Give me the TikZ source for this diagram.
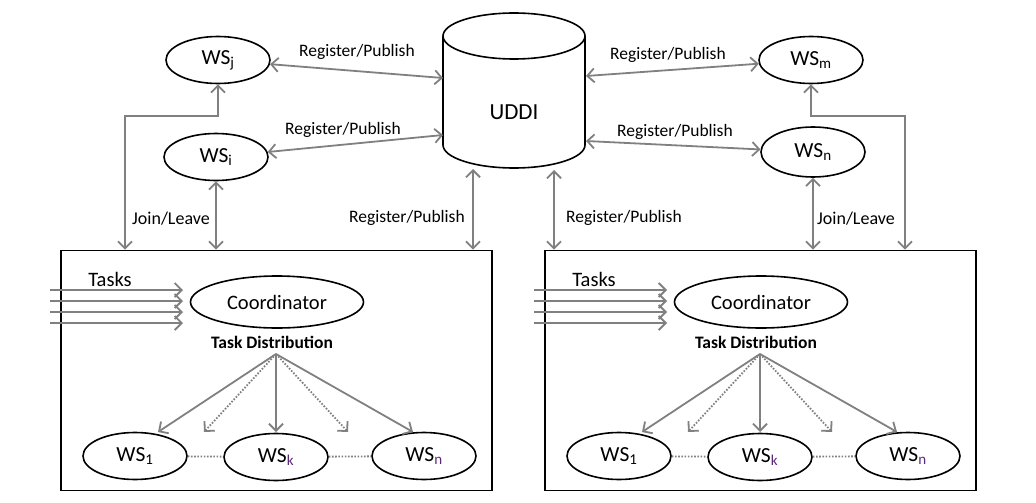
\documentclass[tikz,border=0pt]{standalone}
\usepackage{fontspec}
\setmainfont{Carlito}
\usetikzlibrary{arrows.meta,calc,shapes.geometric}
\definecolor{lgray}{RGB}{128,128,128}
\definecolor{subp}{RGB}{90,40,120}
\tikzset{
  >={Straight Barb[length=7pt,width=14pt]},
  conn/.style={draw=lgray, line width=1.8pt},
  dotconn/.style={draw=lgray, line width=1.8pt, dash pattern=on 1.6pt off 1.6pt},
  wsnode/.style={ellipse, draw, line width=1.6pt, minimum width=104pt, minimum height=47pt, inner sep=0pt, font=\fontsize{21.5}{24}\selectfont},
  lbl/.style={font=\fontsize{17.5}{20}\selectfont, inner sep=0pt},
  boxnode/.style={draw, line width=1.8pt, minimum width=431pt, minimum height=240pt, inner sep=0pt},
}
\newcommand{\cluster}[2]{%
\begin{scope}[xshift=#2pt]
  \node[boxnode] (#1box) at (276.5,370.5) {};
  \node[font=\fontsize{20.5}{22}\selectfont, inner sep=0pt] (#1tasks) at (110,279) {Tasks};
  \node[wsnode, minimum width=173pt, minimum height=52pt, font=\fontsize{20.5}{24}\selectfont] (#1coord) at (277,302) {Coordinator};
  \node[font=\bfseries\fontsize{17.5}{20}\selectfont, inner sep=0pt] (#1td) at (272,342) {Task Distribution};
  \coordinate (#1src) at (276,354);
  \node[wsnode] (#1wa) at (135,456) {WS\textsubscript{1}};
  \node[wsnode] (#1wk) at (276,457) {WS\textsubscript{\color{subp}k}};
  \node[wsnode] (#1wn) at (424,456) {WS\textsubscript{\color{subp}n}};
  \foreach \y [count=\i] in {290,301,312,323} {
    \coordinate (#1ts\i) at (50,\y);
    \coordinate (#1te\i) at (183,\y);
    \draw[conn,->] (#1ts\i) -- (#1te\i);
  }
  \coordinate (#1ea) at (158,432);
  \coordinate (#1eb) at (204,432);
  \coordinate (#1ec) at (276,432);
  \coordinate (#1ed) at (348,432);
  \coordinate (#1ee) at (413,432);
  \draw[conn,->] (#1src) -- (#1ea);
  \draw[dotconn,->] (#1src) -- (#1eb);
  \draw[conn,->] (#1src) -- (#1ec);
  \draw[dotconn,->] (#1src) -- (#1ed);
  \draw[conn,->] (#1src) -- (#1ee);
  \draw[dotconn] (#1wa) -- (#1wk);
  \draw[dotconn] (#1wk) -- (#1wn);
\end{scope}}
\begin{document}
\begin{tikzpicture}[x=1pt,y=-1pt]
\useasboundingbox (0,0) rectangle (1036,503);
% UDDI cylinder
\draw[line width=1.6pt] (514,36) ellipse [x radius=71pt, y radius=23pt];
\draw[line width=1.6pt] (443,36) -- (443,145)
  .. controls (443,157.7) and (474.8,168) .. (514,168)
  .. controls (553.2,168) and (585,157.7) .. (585,145) -- (585,36);
\node[font=\fontsize{23}{26}\selectfont] (uddi) at (514,112) {UDDI};
\coordinate (uj) at (443,78);
\coordinate (ui) at (443,135);
\coordinate (um) at (586,76);
\coordinate (un) at (586,141);
\coordinate (ubl) at (473,169);
\coordinate (ubr) at (554,170);

% top services
\node[wsnode] (wsj) at (218,60) {WS\textsubscript{j}};
\node[wsnode] (wsi) at (216,157) {WS\textsubscript{i}};
\node[wsnode] (wsm) at (811,60) {WS\textsubscript{m}};
\node[wsnode, minimum height=50pt] (wsn) at (813,152) {WS\textsubscript{n}};

% clusters
\cluster{L}{0}
\cluster{R}{484}

% register arrows
\draw[conn,<->] (wsj) -- (uj);
\draw[conn,<->] (wsi) -- (ui);
\draw[conn,<->] (wsm) -- (um);
\draw[conn,<->] (wsn) -- (un);
\node[lbl] (lrj) at (357,52) {Register/Publish};
\node[lbl] (lri) at (343,130) {Register/Publish};
\node[lbl] (lrm) at (668,55) {Register/Publish};
\node[lbl] (lrn) at (675,132) {Register/Publish};

\draw[conn,<->] (ubl) -- (ubl |- Lbox.north);
\draw[conn,<->] (ubr) -- (ubr |- Rbox.north);
\node[lbl] (lbl1) at (407,218) {Register/Publish};
\node[lbl] (lbl2) at (624,218) {Register/Publish};

% join/leave
\draw[conn,<->] (wsi.south) -- (wsi.south |- Lbox.north);
\draw[conn,<->] (wsn.south) -- (wsn.south |- Rbox.north);
\node[lbl, font=\fontsize{18}{20}\selectfont] (jl1) at (171,219) {Join/Leave};
\node[lbl, font=\fontsize{18}{20}\selectfont] (jl2) at (856,219) {Join/Leave};

\coordinate (cl) at (125,116);
\coordinate (cr) at (905,116);
\draw[conn,<->] (wsj.south) -- (wsj.south |- cl) -- (cl) -- (cl |- Lbox.north);
\draw[conn,<->] (wsm.south) -- (wsm.south |- cr) -- (cr) -- (cr |- Rbox.north);
\end{tikzpicture}
\end{document}
